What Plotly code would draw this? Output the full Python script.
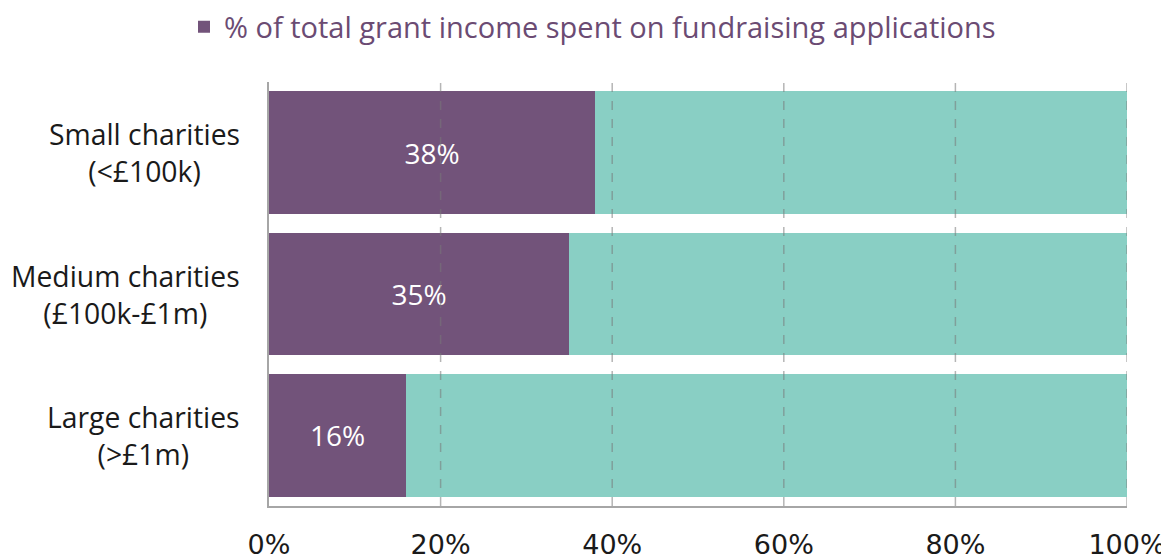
import plotly.graph_objects as go

categories = ["Small charities<br>(<£100k)", "Medium charities<br>(£100k-£1m)", "Large charities<br>(>£1m)"]
spent = [38, 35, 16]
remainder = [62, 65, 84]
tick_vals = [0, 20, 40, 60, 80, 100]
tick_text = ["0%", "20%", "40%", "60%", "80%", "100%"]
series_name = "% of total grant income spent on fundraising applications"

PURPLE = "#72537A"
TEAL = "#89CFC4"
FONT = "'Open Sans', Lato, sans-serif"
TICKFONT = "'DejaVu Sans', Verdana, sans-serif"

fig = go.Figure()
fig.add_trace(go.Bar(
    y=categories, x=spent, orientation="h", name=series_name,
    marker=dict(color=PURPLE, line=dict(width=0)),
    text=[f"{v}%" for v in spent], textposition="inside", insidetextanchor="middle",
    textfont=dict(color="white", size=28, family=FONT),
    hoverinfo="skip",
))
fig.add_trace(go.Bar(
    y=categories, x=remainder, orientation="h", name="Remainder", showlegend=False,
    marker=dict(color=TEAL, line=dict(width=0)), hoverinfo="skip",
))

# dashed gridlines drawn above the bars
for v in tick_vals[1:]:
    fig.add_shape(type="line", xref="x", yref="paper", x0=v, x1=v, y0=0, y1=1,
                  line=dict(color="rgba(120,120,120,0.55)", width=1.5, dash="dash"),
                  layer="above")

# centered two-line category labels
for c in categories:
    fig.add_annotation(x=-0.032, xref="paper", y=c, yref="y", text=c, showarrow=False,
                       xanchor="right", align="center",
                       font=dict(size=28.3, color="#1a1a1a", family=FONT))

fig.update_layout(
    barmode="stack", bargap=0.13,
    width=1169, height=558,
    margin=dict(l=261, r=50, t=74, b=60),
    paper_bgcolor="white", plot_bgcolor="white",
    font=dict(family=FONT, size=28, color="#1a1a1a"),
    showlegend=True,
    legend=dict(orientation="h", xref="container", yref="container",
                x=0.5, xanchor="center", y=0.966, yanchor="middle",
                font=dict(size=29, color="#6B4B73", family=FONT),
                itemwidth=30),
)
fig.update_xaxes(range=[0, 100], tickvals=tick_vals, ticktext=tick_text,
                 showgrid=False, zeroline=False, showline=True, linecolor="#A6A6A6",
                 linewidth=1.5, ticks="", ticklabelstandoff=14, automargin=False,
                 tickfont=dict(size=27, color="#1a1a1a", family=TICKFONT),
                 fixedrange=True)
fig.update_yaxes(autorange="reversed", showticklabels=False, showline=True,
                 linecolor="#A6A6A6", linewidth=1.5, showgrid=False, zeroline=False,
                 ticks="", fixedrange=True, automargin=False)

fig.write_html("out.html")
